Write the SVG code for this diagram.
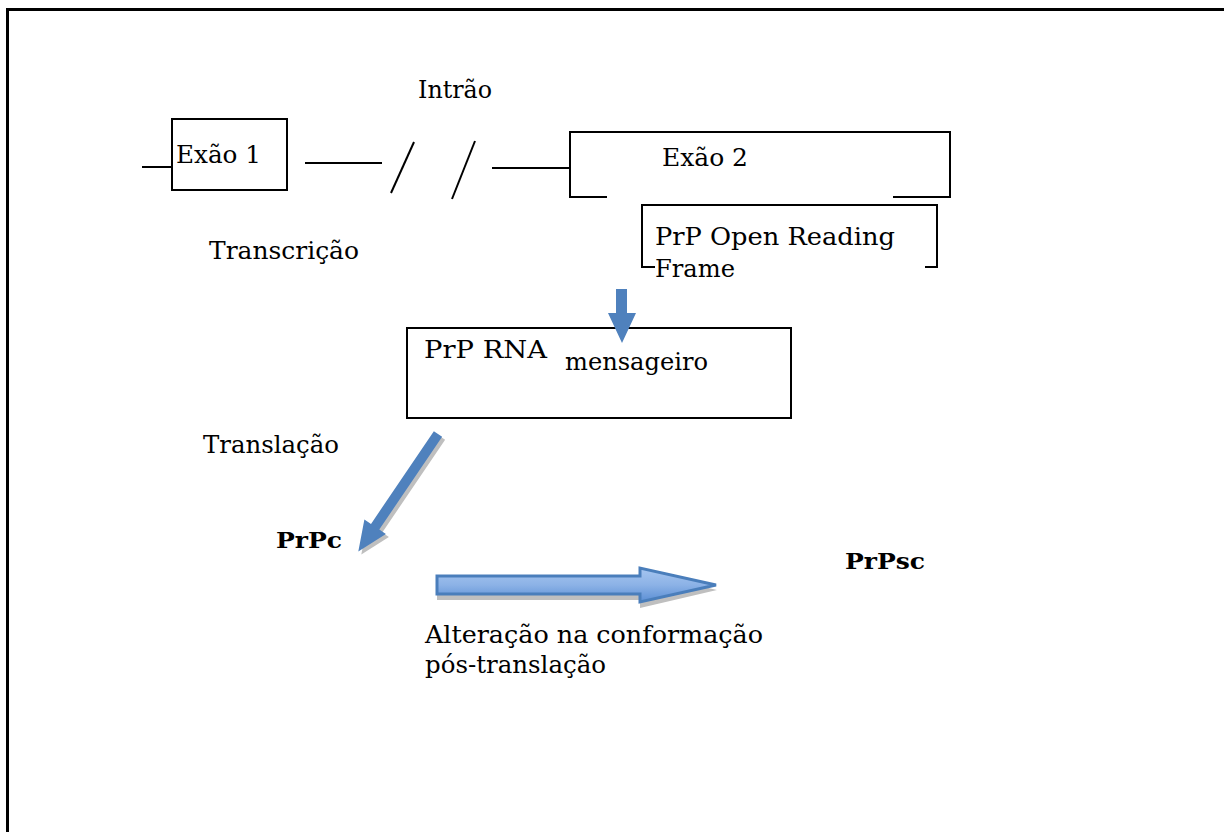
<svg xmlns="http://www.w3.org/2000/svg" width="1224" height="832" viewBox="0 0 1224 832">
  <style>
    .lbl { font-family: "DejaVu Serif", "Liberation Serif", serif; font-size: 24px; fill: #000; }
    .bold { font-weight: bold; font-size: 23px; }
    .ln { fill: none; stroke: #000; stroke-width: 2; }
    .frame { fill: none; stroke: #000; stroke-width: 3; }
    .solid { fill: #4f81bd; }
    .shadow { fill: #bfbfbf; }
  </style>
  <defs>
    <linearGradient id="blueGrad" x1="0" y1="0" x2="0" y2="1">
      <stop offset="0" stop-color="#a7c6f0"/>
      <stop offset="0.5" stop-color="#8cb2e6"/>
      <stop offset="1" stop-color="#5a8ed4"/>
    </linearGradient>
  </defs>

  <rect width="1224" height="832" fill="#fff"/>
  <!-- page frame -->
  <path class="frame" d="M1224,9.5 H7.5 V832"/>

  <g id="intron">
    <text class="lbl" x="418" y="98" textLength="74" lengthAdjust="spacingAndGlyphs">Intrão</text>
  </g>

  <g id="exon1">
    <rect class="ln" x="172" y="119" width="115" height="71"/>
    <text class="lbl" x="176" y="163" textLength="85" lengthAdjust="spacingAndGlyphs">Exão 1</text>
  </g>

  <g id="exon2">
    <path class="ln" d="M607,197 H570 V132 H950 V197 H893"/>
    <text class="lbl" x="662" y="166" textLength="86" lengthAdjust="spacingAndGlyphs">Exão 2</text>
  </g>

  <g id="orf">
    <path class="ln" d="M655,267 H642 V205 H937 V267 H925"/>
    <text class="lbl" x="655" y="245" textLength="240" lengthAdjust="spacingAndGlyphs">PrP Open Reading</text>
    <text class="lbl" x="655" y="277" textLength="80" lengthAdjust="spacingAndGlyphs">Frame</text>
  </g>

  <g id="transcription">
    <text class="lbl" x="209" y="259" textLength="150" lengthAdjust="spacingAndGlyphs">Transcrição</text>
  </g>

  <g id="mrna">
    <rect class="ln" x="407" y="328" width="384" height="90"/>
    <text class="lbl" x="424" y="358" textLength="123" lengthAdjust="spacingAndGlyphs">PrP RNA</text>
    <text class="lbl" x="565" y="370" textLength="143" lengthAdjust="spacingAndGlyphs">mensageiro</text>
  </g>

  <g id="translation">
    <text class="lbl" x="203" y="453" textLength="136" lengthAdjust="spacingAndGlyphs">Translação</text>
  </g>

  <g id="prpc">
    <text class="lbl bold" x="276" y="548" textLength="66" lengthAdjust="spacingAndGlyphs">PrPc</text>
  </g>

  <g id="prpsc">
    <text class="lbl bold" x="845" y="569" textLength="80" lengthAdjust="spacingAndGlyphs">PrPsc</text>
  </g>

  <g id="conformation">
    <text class="lbl" x="425" y="643" textLength="338" lengthAdjust="spacingAndGlyphs">Alteração na conformação</text>
    <text class="lbl" x="425" y="673" textLength="181" lengthAdjust="spacingAndGlyphs">pós-translação</text>
  </g>

  <g id="connectors">
    <!-- gene line and intron break marks -->
    <line class="ln" x1="142" y1="167" x2="172" y2="167"/>
    <line class="ln" x1="305" y1="163" x2="382" y2="163"/>
    <line class="ln" x1="414" y1="142" x2="391" y2="193"/>
    <line class="ln" x1="475" y1="141" x2="452" y2="199"/>
    <line class="ln" x1="492" y1="168" x2="570" y2="168"/>

    <!-- transcription arrow -->
    <polygon class="solid" points="616,289 627,289 627,313 636,313 622,343 608,313 616,313"/>

    <!-- translation arrow -->
    <g transform="translate(441,437) rotate(124.14)">
      <polygon class="shadow" points="0,-5 112,-5 112,-13 142,0 112,13 112,5 0,5"/>
    </g>
    <g transform="translate(438,434) rotate(124.14)">
      <polygon class="solid" points="0,-5 112,-5 112,-13 142,0 112,13 112,5 0,5"/>
    </g>

    <!-- conformational change arrow -->
    <polygon class="shadow" points="437,580 640,580 640,572 717,590 640,608 640,600 437,600"/>
    <polygon fill="url(#blueGrad)" stroke="#4a7ebb" stroke-width="3" points="437,576 640,576 640,568 716,585 640,602 640,594 437,594"/>
  </g>
</svg>
